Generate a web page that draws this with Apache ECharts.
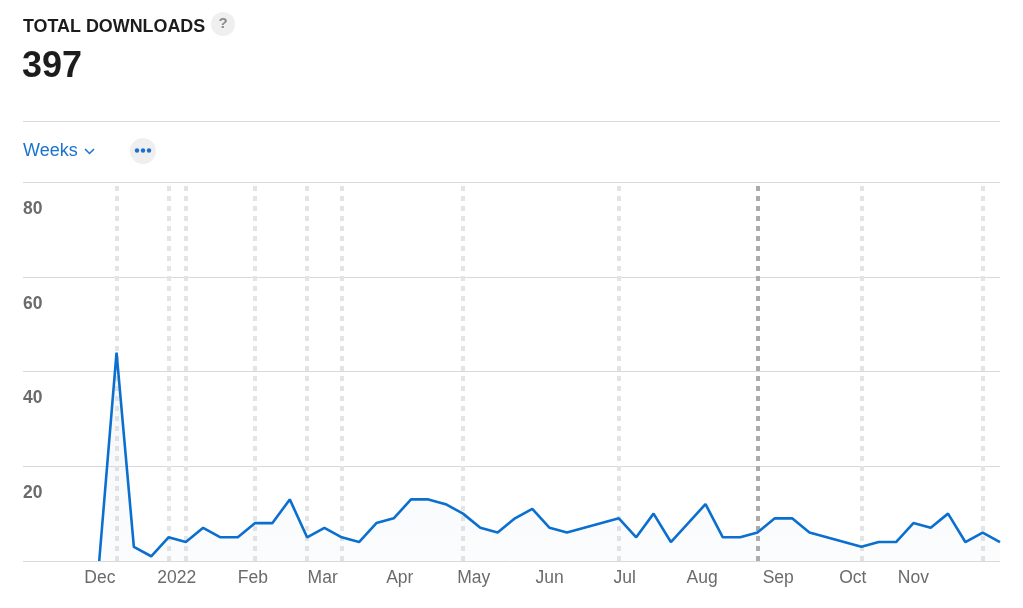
<!DOCTYPE html>
<html><head><meta charset="utf-8">
<script src="https://cdn.jsdelivr.net/npm/echarts@6/dist/echarts.min.js"></script>
<style>html,body{margin:0;padding:0;background:#fff}#c{width:1023px;height:608px}</style>
</head><body><div id="c"></div><script>
// ---- data ----
const downloads = [0,44,3,1,5,4,7,5,5,8,8,13,5,7,5,4,8,9,13,13,12,10,7,6,9,11,7,6,7,8,9,5,10,4,8,12,5,5,6,9,9,6,5,4,3,4,4,8,7,10,4,6,4];
const monthLabels = ['Dec','2022','Feb','Mar','Apr','May','Jun','Jul','Aug','Sep','Oct','Nov'];
const monthPositions = [0.04,4.48,8.87,12.9,17.35,21.62,26.0,30.34,34.8,39.2,43.5,47.0];
const markerWeeks = [1,4,5,9,12,14,21,30,44,51];
const highlightWeeks = [38];
const yTicks = [0,20,40,60,80];
const titleText = 'TOTAL DOWNLOADS';
const totalText = '397';
const periodText = 'Weeks';

const FONT = '"Liberation Sans", Arial, Helvetica, sans-serif';
const BLUE = '#0b6fd0';

const chart = echarts.init(document.getElementById('c'), null, {renderer: 'canvas'});
const weekData = downloads.map((v, i) => [i, v]);

const markData = markerWeeks.map(w => ({xAxis: w, lineStyle: {color: '#e4e4e4'}}))
  .concat(highlightWeeks.map(w => ({xAxis: w, lineStyle: {color: '#ababab'}})));

const option = {
  animation: false,
  backgroundColor: '#fff',
  grid: {left: 23, right: 23, top: 182, bottom: 47, containLabel: false},
  xAxis: {
    type: 'value', min: -4.4, max: 52,
    axisLine: {show: false}, axisTick: {show: false}, splitLine: {show: false},
    axisLabel: {
      customValues: monthPositions,
      margin: 8,
      color: '#6b6b6b', fontFamily: FONT, fontSize: 17.5,
      formatter: v => {
        let best = 0, bd = 1e9;
        monthPositions.forEach((p, i) => { const d = Math.abs(p - v); if (d < bd) { bd = d; best = i; } });
        return monthLabels[best];
      }
    }
  },
  yAxis: {
    type: 'value', min: yTicks[0], max: yTicks[yTicks.length - 1], interval: 20,
    axisLine: {show: false}, axisTick: {show: false},
    splitLine: {lineStyle: {color: '#d9d9d9', width: 1}},
    axisLabel: {
      inside: true, margin: 0, align: 'left', verticalAlign: 'top',
      padding: [18, 0, 0, 0],
      color: '#6b6b6b', fontFamily: FONT, fontSize: 17.5, fontWeight: 'bold',
      formatter: v => (v === 0 ? '' : String(v))
    }
  },
  series: [
    {
      type: 'line', data: weekData, z: 1, silent: true,
      showSymbol: false, lineStyle: {width: 0, opacity: 0},
      markLine: {
        z: 1,
        silent: true, symbol: ['none', 'none'], label: {show: false},
        lineStyle: {type: [5, 5], width: 4},
        data: markData
      }
    },
    {
      type: 'line', data: weekData, z: 10,
      showSymbol: false, smooth: false,
      lineStyle: {color: BLUE, width: 2.6},
      areaStyle: {
        color: new echarts.graphic.LinearGradient(0, 0, 0, 1, [
          {offset: 0, color: 'rgba(190,200,215,0.22)'},
          {offset: 1, color: 'rgba(190,200,215,0.08)'}
        ])
      }
    }
  ],
  graphic: [
    {type: 'text', style: {text: titleText, x: 23, y: 27.5, textAlign: 'left', align: 'left', textVerticalAlign: 'middle', verticalAlign: 'middle', font: 'bold 17.9px ' + FONT, fill: '#1c1c1c'}},
    {type: 'circle', shape: {cx: 223, cy: 24, r: 12}, style: {fill: '#efefef'}},
    {type: 'text', style: {text: '?', x: 223, y: 24, textAlign: 'center', align: 'center', textVerticalAlign: 'middle', verticalAlign: 'middle', font: 'bold 15px ' + FONT, fill: '#8a8a8a'}},
    {type: 'text', style: {text: totalText, x: 22, y: 67.5, textAlign: 'left', align: 'left', textVerticalAlign: 'middle', verticalAlign: 'middle', font: 'bold 36px ' + FONT, fill: '#1c1c1c'}},
    {type: 'line', shape: {x1: 23, y1: 121.5, x2: 1000, y2: 121.5}, style: {stroke: '#d9d9d9', lineWidth: 1}},
    {type: 'text', style: {text: periodText, x: 23, y: 151.5, textAlign: 'left', align: 'left', textVerticalAlign: 'middle', verticalAlign: 'middle', font: '18px ' + FONT, fill: '#1a73d0'}},
    {type: 'polyline', shape: {points: [[85, 149], [89.5, 153.5], [94, 149]]}, style: {stroke: '#1a73d0', lineWidth: 1.5, fill: null}},
    {type: 'circle', shape: {cx: 143, cy: 151, r: 13}, style: {fill: '#efefef'}},
    {type: 'circle', shape: {cx: 137, cy: 150.5, r: 2.2}, style: {fill: '#1a6fd0'}},
    {type: 'circle', shape: {cx: 143, cy: 150.5, r: 2.2}, style: {fill: '#1a6fd0'}},
    {type: 'circle', shape: {cx: 149, cy: 150.5, r: 2.2}, style: {fill: '#1a6fd0'}}
  ]
};
chart.setOption(option);
</script></body></html>
